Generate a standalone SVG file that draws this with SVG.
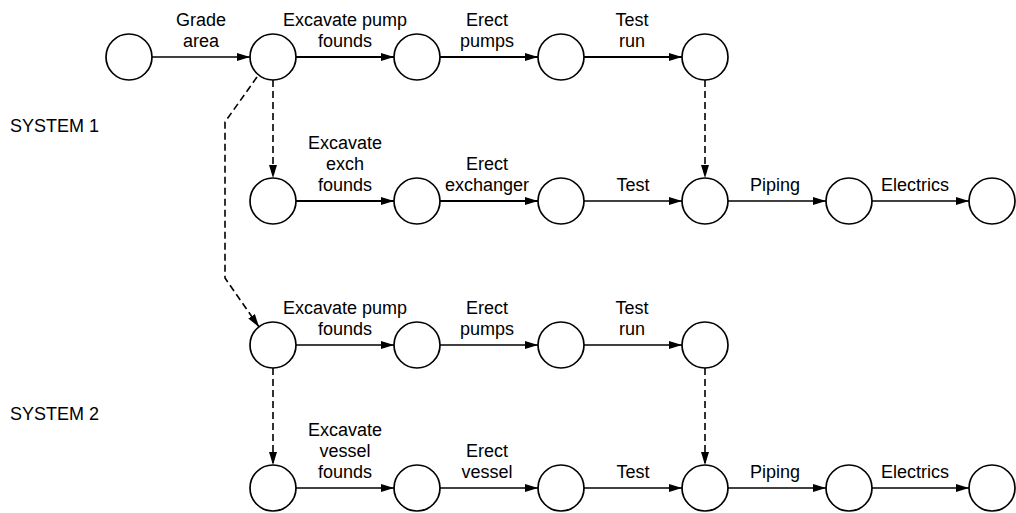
<svg xmlns="http://www.w3.org/2000/svg" width="1016" height="513" viewBox="0 0 1016 513">
  <defs>
    <marker id="arrow" markerUnits="userSpaceOnUse" markerWidth="14" markerHeight="10" refX="13" refY="5" orient="auto">
      <path d="M0,1 L13,5 L0,9 Z" fill="#000"/>
    </marker>
    <style>
      .node circle { fill: #fff; stroke: #000; stroke-width: 1.7; }
      .act { fill: none; stroke: #000; stroke-width: 1.3; marker-end: url(#arrow); }
      .bold { stroke-width: 1.8; }
      .dummy { fill: none; stroke: #000; stroke-width: 1.6; stroke-dasharray: 7 4; marker-end: url(#arrow); }
      .lbl { font-family: "Liberation Sans", Arial, sans-serif; font-size: 18px; fill: #000; text-anchor: middle; }
      .sys { font-family: "Liberation Sans", Arial, sans-serif; font-size: 18px; fill: #000; }
    </style>
  </defs>
  <rect width="1016" height="513" fill="#fff"/>

  <!-- system headings -->
  <text class="sys" x="10" y="132">SYSTEM 1</text>
  <text class="sys" x="10" y="420">SYSTEM 2</text>

  <!-- activity arrows and dummy dependencies -->
  <g id="connectors">
    <!-- system 1, pump line -->
    <line class="act" x1="152" y1="57" x2="250" y2="57"/>
    <line class="act bold" x1="296" y1="57" x2="394" y2="57"/>
    <line class="act bold" x1="440" y1="57" x2="538" y2="57"/>
    <line class="act bold" x1="584" y1="57" x2="682" y2="57"/>
    <!-- system 1, exchanger line -->
    <line class="act bold" x1="296" y1="201" x2="394" y2="201"/>
    <line class="act bold" x1="440" y1="201" x2="538" y2="201"/>
    <line class="act" x1="584" y1="201" x2="682" y2="201"/>
    <line class="act" x1="728" y1="201" x2="826" y2="201"/>
    <line class="act" x1="872" y1="201" x2="969" y2="201"/>
    <!-- system 2, pump line -->
    <line class="act" x1="296" y1="345" x2="394" y2="345"/>
    <line class="act" x1="440" y1="345" x2="538" y2="345"/>
    <line class="act" x1="584" y1="345" x2="682" y2="345"/>
    <!-- system 2, vessel line -->
    <line class="act" x1="296" y1="488" x2="394" y2="488"/>
    <line class="act" x1="440" y1="488" x2="538" y2="488"/>
    <line class="act" x1="584" y1="488" x2="682" y2="488"/>
    <line class="act" x1="728" y1="488" x2="826" y2="488"/>
    <line class="act" x1="872" y1="488" x2="969" y2="488"/>
    <!-- dummies -->
    <line class="dummy" x1="273" y1="80" x2="273" y2="178"/>
    <line class="dummy" x1="705" y1="80" x2="705" y2="178"/>
    <path class="dummy" d="M257,77 L225,122 L225,278 L259,327"/>
    <line class="dummy" x1="273" y1="368" x2="273" y2="465"/>
    <line class="dummy" x1="705" y1="368" x2="705" y2="465"/>
  </g>

  <!-- activity labels -->
  <g id="labels">
    <text class="lbl" x="201" y="26">Grade</text>
    <text class="lbl" x="201" y="47">area</text>
    <text class="lbl" x="345" y="26">Excavate pump</text>
    <text class="lbl" x="345" y="47">founds</text>
    <text class="lbl" x="487" y="26">Erect</text>
    <text class="lbl" x="487" y="47">pumps</text>
    <text class="lbl" x="632" y="26">Test</text>
    <text class="lbl" x="632" y="47">run</text>

    <text class="lbl" x="345" y="149">Excavate</text>
    <text class="lbl" x="345" y="170">exch</text>
    <text class="lbl" x="345" y="191">founds</text>
    <text class="lbl" x="487" y="170">Erect</text>
    <text class="lbl" x="487" y="191">exchanger</text>
    <text class="lbl" x="633" y="191">Test</text>
    <text class="lbl" x="775" y="191">Piping</text>
    <text class="lbl" x="915" y="191">Electrics</text>

    <text class="lbl" x="345" y="314">Excavate pump</text>
    <text class="lbl" x="345" y="335">founds</text>
    <text class="lbl" x="487" y="314">Erect</text>
    <text class="lbl" x="487" y="335">pumps</text>
    <text class="lbl" x="632" y="314">Test</text>
    <text class="lbl" x="632" y="335">run</text>

    <text class="lbl" x="345" y="436">Excavate</text>
    <text class="lbl" x="345" y="457">vessel</text>
    <text class="lbl" x="345" y="478">founds</text>
    <text class="lbl" x="487" y="457">Erect</text>
    <text class="lbl" x="487" y="478">vessel</text>
    <text class="lbl" x="633" y="478">Test</text>
    <text class="lbl" x="775" y="478">Piping</text>
    <text class="lbl" x="915" y="478">Electrics</text>
  </g>

  <!-- events -->
  <g id="n1a" class="node"><circle cx="129" cy="57" r="23"/></g>
  <g id="n1b" class="node"><circle cx="273" cy="57" r="23"/></g>
  <g id="n1c" class="node"><circle cx="417" cy="57" r="23"/></g>
  <g id="n1d" class="node"><circle cx="561" cy="57" r="23"/></g>
  <g id="n1e" class="node"><circle cx="705" cy="57" r="23"/></g>

  <g id="n2a" class="node"><circle cx="273" cy="201" r="23"/></g>
  <g id="n2b" class="node"><circle cx="417" cy="201" r="23"/></g>
  <g id="n2c" class="node"><circle cx="561" cy="201" r="23"/></g>
  <g id="n2d" class="node"><circle cx="705" cy="201" r="23"/></g>
  <g id="n2e" class="node"><circle cx="849" cy="201" r="23"/></g>
  <g id="n2f" class="node"><circle cx="992" cy="201" r="23"/></g>

  <g id="n3a" class="node"><circle cx="273" cy="345" r="23"/></g>
  <g id="n3b" class="node"><circle cx="417" cy="345" r="23"/></g>
  <g id="n3c" class="node"><circle cx="561" cy="345" r="23"/></g>
  <g id="n3d" class="node"><circle cx="705" cy="345" r="23"/></g>

  <g id="n4a" class="node"><circle cx="273" cy="488" r="23"/></g>
  <g id="n4b" class="node"><circle cx="417" cy="488" r="23"/></g>
  <g id="n4c" class="node"><circle cx="561" cy="488" r="23"/></g>
  <g id="n4d" class="node"><circle cx="705" cy="488" r="23"/></g>
  <g id="n4e" class="node"><circle cx="849" cy="488" r="23"/></g>
  <g id="n4f" class="node"><circle cx="992" cy="488" r="23"/></g>
</svg>
